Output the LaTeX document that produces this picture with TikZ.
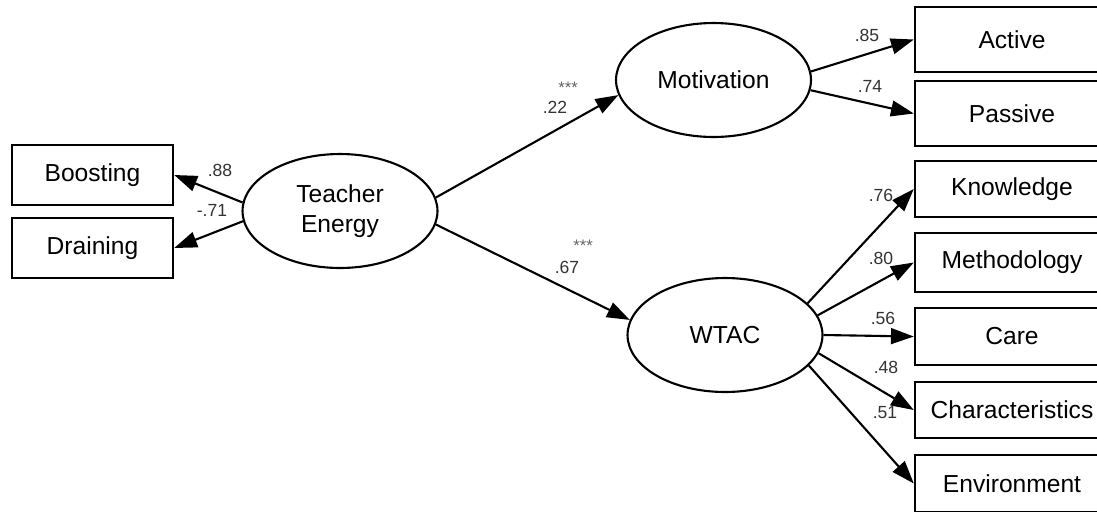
\documentclass[tikz,border=0pt]{standalone}
\usepackage{fontspec}
\setmainfont{Liberation Sans}
\usetikzlibrary{arrows.meta,shapes.geometric}
\newcommand{\rb}[4]{\node[obs, minimum height=#3cm] (#1) at (1012,#2) {#4};}
\newcommand{\lab}[3]{\node[wt] (#1) at #2 {#3};}

\begin{document}
\begin{tikzpicture}[x=0.02cm, y=-0.02cm,
    obs/.style={draw, line width=1.4pt, minimum width=3.88cm, inner sep=0pt,
                font=\fontsize{14}{16}\selectfont},
    lat/.style={draw, ellipse, line width=1.2pt, minimum width=3.9cm, minimum height=2.28cm,
                inner sep=0pt, align=center, font=\fontsize{14}{17}\selectfont},
    path/.style={line width=1.2pt, -{Triangle[length=13pt, width=9pt]}},
    wt/.style={inner sep=0pt, text=black!80, font=\fontsize{10}{12}\selectfont},
    sig/.style={inner sep=0pt, text=black!60, font=\fontsize{9.5}{10}\selectfont}]
   \clip (0,0) rectangle (1097,511);
   % latent variables
   \node[lat] (te)   at (340,211)   {Teacher\\Energy};
   \node[lat] (mot)  at (713.5,80)  {Motivation};
   \node[lat] (wtac) at (725,335)   {WTAC};
   % left indicators
   \node[obs, minimum width=3.22cm, minimum height=1.2cm] (boost) at (92.5,175) {Boosting};
   \node[obs, minimum width=3.22cm, minimum height=1.2cm] (drain) at (92.5,248) {Draining};
   % right indicators
   \rb{act}{39.5}{1.3}{Active}
   \rb{pas}{113.5}{1.3}{Passive}
   \rb{know}{189}{1.12}{Knowledge}
   \rb{meth}{262.5}{1.18}{Methodology}
   \rb{care}{336.5}{1.14}{Care}
   \rb{char}{410}{1.12}{Characteristics}
   \rb{env}{483.5}{1.14}{Environment}
   % paths
   \draw[path] (te.175)   -- (boost.east);
   \draw[path] (te.186)   -- (drain.east);
   \draw[path] (te.8)     -- (mot.189);
   \draw[path] (te.-8)    -- (wtac.171);
   \draw[path] (mot.5)    -- (act.west);
   \draw[path] (mot.-6)   -- (pas.west);
   \draw[path] (wtac.21)  -- (know.west);
   \draw[path] (wtac.12)  -- (meth.west);
   \draw[path] (wtac.0)   -- (care.west);
   \draw[path] (wtac.-11) -- (char.west);
   \draw[path] (wtac.-20) -- (env.west);
   % loadings
   \lab{w88}{(220,170)}{.88}
   \lab{w71}{(212,210)}{-.71}
   \lab{w22}{(555,107)}{.22}
   \lab{w67}{(567,267)}{.67}
   \lab{w85}{(867,35)}{.85}
   \lab{w74}{(870,86)}{.74}
   \lab{w76}{(881,195)}{.76}
   \lab{w80}{(881,258)}{.80}
   \lab{w56}{(883,318)}{.56}
   \lab{w48}{(886,367)}{.48}
   \lab{w51}{(885,413)}{.51}
   \node[sig] (s22) at (568,88)  {***};
   \node[sig] (s67) at (583,246) {***};
\end{tikzpicture}
\end{document}
